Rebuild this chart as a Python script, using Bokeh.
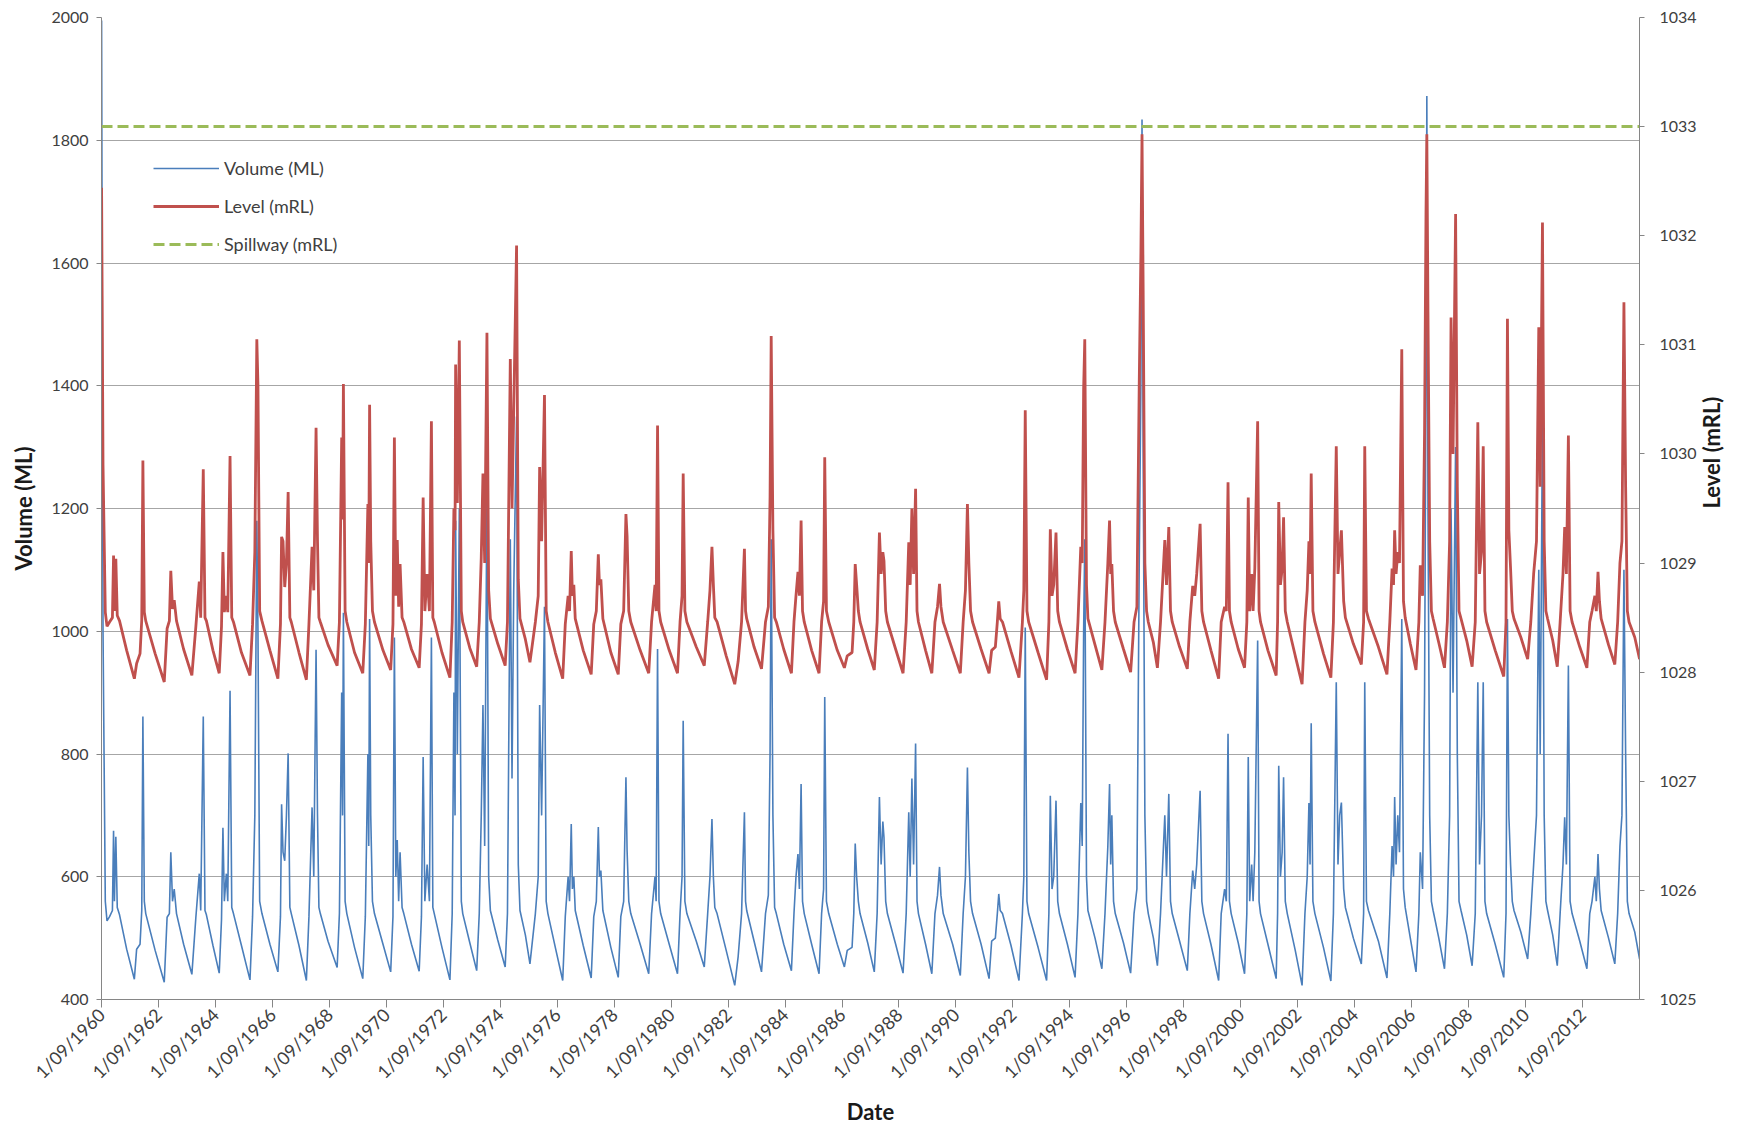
import math
from bokeh.plotting import figure
from bokeh.models import (Range1d, LinearAxis, FixedTicker, CustomJSTickFormatter,
                          Legend, LegendItem, ColumnDataSource)
from bokeh.embed import file_html
from bokeh.resources import INLINE

# ---------------- data ----------------
# date as decimal year, storage volume (ML, left axis), water level (mRL, right axis)
DATE_YR = [
    1960.67, 1960.72, 1960.80, 1960.86, 1960.95, 1961.05, 1961.09, 1961.12, 1961.17, 1961.22, 1961.30, 1961.55, 1961.82, 1961.90, 1962.02,
    1962.08, 1962.12, 1962.17, 1962.22, 1962.55, 1962.87,
    1962.97, 1963.05, 1963.10, 1963.16, 1963.22, 1963.30, 1963.55, 1963.84,
    1963.98, 1964.10, 1964.15, 1964.24, 1964.30, 1964.35, 1964.58, 1964.80,
    1964.88, 1964.93, 1964.98, 1965.05, 1965.10, 1965.18, 1965.24, 1965.30, 1965.58, 1965.88,
    1965.97, 1966.05, 1966.12, 1966.16, 1966.22, 1966.30, 1966.58, 1966.86,
    1966.95, 1966.99, 1967.04, 1967.10, 1967.16, 1967.22, 1967.28, 1967.33, 1967.60, 1967.86,
    1967.95, 1968.06, 1968.12, 1968.20, 1968.25, 1968.30, 1968.35, 1968.62, 1968.94,
    1969.02, 1969.10, 1969.13, 1969.16, 1969.22, 1969.28, 1969.55, 1969.84,
    1969.93, 1970.02, 1970.05, 1970.08, 1970.12, 1970.18, 1970.25, 1970.55, 1970.82,
    1970.90, 1970.95, 1971.00, 1971.05, 1971.10, 1971.15, 1971.22, 1971.28, 1971.55, 1971.82,
    1971.90, 1971.96, 1972.02, 1972.10, 1972.18, 1972.25, 1972.30, 1972.35, 1972.62, 1972.90,
    1972.98, 1973.04, 1973.08, 1973.10, 1973.16, 1973.23, 1973.30, 1973.35, 1973.60, 1973.84,
    1973.93, 1974.00, 1974.06, 1974.12, 1974.20, 1974.26, 1974.32, 1974.58, 1974.84,
    1974.92, 1975.02, 1975.08, 1975.14, 1975.24, 1975.30, 1975.36, 1975.55, 1975.71,
    1975.90, 1976.00, 1976.05, 1976.12, 1976.22, 1976.28, 1976.34, 1976.60, 1976.86,
    1976.95, 1977.05, 1977.10, 1977.16, 1977.20, 1977.25, 1977.30, 1977.58, 1977.86,
    1977.95, 1978.04, 1978.11, 1978.15, 1978.20, 1978.27, 1978.55, 1978.81,
    1978.90, 1979.00, 1979.08, 1979.12, 1979.18, 1979.25, 1979.58, 1979.88,
    1979.98, 1980.10, 1980.14, 1980.19, 1980.24, 1980.30, 1980.60, 1980.89,
    1980.98, 1981.05, 1981.09, 1981.15, 1981.22, 1981.55, 1981.83,
    1981.95, 1982.03, 1982.10, 1982.15, 1982.20, 1982.28, 1982.60, 1982.90,
    1983.02, 1983.14, 1983.24, 1983.28, 1983.32, 1983.58, 1983.84,
    1983.98, 1984.08, 1984.14, 1984.18, 1984.24, 1984.30, 1984.36, 1984.62, 1984.89,
    1984.98, 1985.05, 1985.12, 1985.17, 1985.23, 1985.28, 1985.34, 1985.60, 1985.86,
    1985.95, 1986.02, 1986.06, 1986.12, 1986.20, 1986.50, 1986.75, 1986.85, 1987.02,
    1987.08, 1987.13, 1987.18, 1987.24, 1987.30, 1987.57, 1987.80,
    1987.90, 1987.98, 1988.04, 1988.10, 1988.14, 1988.20, 1988.26, 1988.55, 1988.81,
    1988.92, 1989.01, 1989.06, 1989.12, 1989.18, 1989.25, 1989.30, 1989.35, 1989.60, 1989.82,
    1989.93, 1990.02, 1990.09, 1990.14, 1990.22, 1990.55, 1990.82,
    1990.92, 1991.00, 1991.07, 1991.12, 1991.18, 1991.25, 1991.55, 1991.83, 1991.92, 1992.05,
    1992.12, 1992.17, 1992.22, 1992.30, 1992.60, 1992.88,
    1993.00, 1993.05, 1993.10, 1993.16, 1993.22, 1993.55, 1993.85,
    1993.93, 1993.98, 1994.04, 1994.10, 1994.18, 1994.24, 1994.30, 1994.58, 1994.85,
    1994.95, 1995.05, 1995.10, 1995.15, 1995.19, 1995.25, 1995.30, 1995.55, 1995.79,
    1995.90, 1996.00, 1996.06, 1996.10, 1996.14, 1996.20, 1996.26, 1996.55, 1996.80,
    1996.92, 1997.02, 1997.10, 1997.16, 1997.20, 1997.24, 1997.30, 1997.36, 1997.42, 1997.60, 1997.74,
    1997.85, 1998.00, 1998.06, 1998.14, 1998.20, 1998.26, 1998.52, 1998.79,
    1998.88, 1998.98, 1999.05, 1999.12, 1999.24, 1999.30, 1999.36, 1999.62, 1999.89,
    1999.98, 2000.10, 2000.16, 2000.22, 2000.27, 2000.33, 2000.58, 2000.80,
    2000.88, 2000.93, 2000.98, 2001.05, 2001.10, 2001.16, 2001.26, 2001.31, 2001.36, 2001.62, 2001.91,
    2001.96, 2002.00, 2002.06, 2002.12, 2002.17, 2002.23, 2002.30, 2002.58, 2002.82,
    2002.92, 2003.00, 2003.06, 2003.10, 2003.14, 2003.20, 2003.27, 2003.57, 2003.83,
    2003.92, 2004.02, 2004.08, 2004.14, 2004.20, 2004.28, 2004.34, 2004.62, 2004.90,
    2004.98, 2005.02, 2005.08, 2005.15, 2005.50, 2005.80,
    2005.90, 2005.98, 2006.03, 2006.07, 2006.12, 2006.18, 2006.24, 2006.32, 2006.38, 2006.44, 2006.62, 2006.82,
    2006.92, 2006.97, 2007.05, 2007.12, 2007.17, 2007.20, 2007.24, 2007.30, 2007.36, 2007.42, 2007.62, 2007.82,
    2007.92, 2008.00, 2008.05, 2008.12, 2008.21, 2008.27, 2008.33, 2008.40, 2008.60, 2008.79,
    2008.90, 2008.99, 2009.05, 2009.12, 2009.18, 2009.24, 2009.30, 2009.60, 2009.90,
    2009.98, 2010.03, 2010.08, 2010.14, 2010.20, 2010.26, 2010.50, 2010.74,
    2010.85, 2010.95, 2011.05, 2011.13, 2011.18, 2011.26, 2011.32, 2011.38, 2011.44, 2011.62, 2011.78,
    2011.88, 2011.98, 2012.04, 2012.10, 2012.17, 2012.23, 2012.30, 2012.57, 2012.82,
    2012.92, 2013.00, 2013.10, 2013.15, 2013.21, 2013.26, 2013.32, 2013.58, 2013.80,
    2013.90, 2013.98, 2014.05, 2014.12, 2014.18, 2014.24, 2014.30, 2014.50, 2014.67,
]

VOLUME_ML = [
    1995, 1000, 560, 528, 535, 545, 675, 560, 665, 550, 538, 482, 433, 482, 490,
    545, 861, 560, 540, 480, 428,
    534, 540, 640, 560, 580, 540, 490, 441,
    534, 605, 545, 861, 545, 538, 488, 443,
    530, 680, 560, 605, 560, 903, 550, 540, 488, 432,
    535, 700, 1180, 1000, 560, 540, 490, 445,
    535, 718, 640, 626, 700, 801, 550, 540, 488, 431,
    535, 713, 600, 970, 702, 550, 540, 495, 452,
    540, 900, 700, 1030, 560, 540, 485, 434,
    535, 800, 650, 1020, 700, 560, 540, 490, 445,
    535, 990, 600, 660, 560, 640, 550, 540, 490, 446,
    535, 795, 560, 620, 560, 990, 550, 540, 485, 432,
    540, 900, 700, 1180, 800, 1200, 560, 540, 492, 447,
    540, 700, 880, 650, 1240, 600, 545, 497, 453,
    540, 1150, 760, 1066, 1350, 620, 545, 505, 458,
    540, 600, 880, 700, 1040, 560, 540, 485, 431,
    535, 600, 560, 686, 580, 600, 545, 488, 435,
    535, 560, 681, 600, 610, 545, 485, 436,
    535, 560, 762, 643, 560, 540, 490, 442,
    540, 600, 560, 971, 560, 540, 490, 442,
    540, 600, 854, 560, 540, 495, 453,
    540, 600, 694, 600, 550, 540, 480, 423,
    470, 540, 705, 560, 545, 495, 445,
    540, 570, 800, 1150, 700, 550, 540, 490, 447,
    540, 600, 637, 580, 751, 560, 540, 490, 442,
    540, 580, 893, 560, 540, 490, 453, 480, 485,
    540, 654, 600, 560, 540, 492, 445,
    540, 730, 620, 690, 664, 560, 540, 490, 443,
    540, 705, 600, 760, 620, 817, 560, 540, 490, 442,
    540, 570, 616, 570, 540, 490, 439,
    540, 600, 778, 640, 560, 540, 490, 434, 495, 500,
    540, 572, 545, 540, 488, 431,
    540, 600, 1006, 560, 540, 485, 431,
    540, 732, 580, 600, 724, 560, 540, 490, 436,
    540, 720, 650, 1000, 1150, 600, 545, 500, 450,
    540, 650, 751, 620, 700, 560, 540, 492, 443,
    540, 580, 1100, 1400, 1834, 1300, 700, 560, 540, 500, 455,
    540, 700, 600, 735, 560, 540, 495, 447,
    540, 610, 580, 620, 740, 560, 540, 490, 431,
    540, 580, 560, 833, 560, 540, 492, 442,
    540, 795, 560, 620, 560, 640, 985, 560, 540, 490, 434,
    540, 781, 600, 640, 762, 560, 540, 480, 423,
    540, 600, 720, 620, 850, 560, 540, 485, 430,
    540, 917, 620, 700, 721, 580, 550, 500, 458,
    540, 917, 560, 545, 495, 435,
    540, 650, 600, 730, 620, 700, 640, 1020, 580, 550, 500, 445,
    540, 640, 580, 900, 1400, 1872, 1200, 700, 560, 545, 500, 450,
    540, 700, 1200, 900, 1300, 800, 560, 545, 505, 455,
    540, 917, 620, 700, 917, 560, 540, 490, 436,
    540, 1020, 700, 620, 560, 545, 510, 466,
    540, 620, 700, 1100, 800, 1350, 700, 560, 545, 505, 455,
    540, 620, 697, 620, 944, 560, 540, 495, 450,
    540, 560, 600, 560, 637, 580, 545, 500, 458,
    540, 650, 700, 1100, 800, 560, 540, 510, 466,
]

LEVEL_MRL = [
    1032.44, 1029.90, 1028.55, 1028.42, 1028.46, 1028.50, 1029.07, 1028.56, 1029.04, 1028.52, 1028.47, 1028.20, 1027.94, 1028.08, 1028.17,
    1028.48, 1029.94, 1028.55, 1028.47, 1028.17, 1027.91,
    1028.40, 1028.47, 1028.93, 1028.58, 1028.66, 1028.47, 1028.21, 1027.97,
    1028.42, 1028.83, 1028.50, 1029.86, 1028.50, 1028.47, 1028.20, 1027.99,
    1028.42, 1029.10, 1028.55, 1028.70, 1028.55, 1029.98, 1028.50, 1028.46, 1028.18, 1027.97,
    1028.44, 1029.10, 1031.05, 1030.63, 1028.56, 1028.47, 1028.20, 1027.94,
    1028.44, 1029.24, 1029.20, 1028.78, 1029.00, 1029.65, 1028.50, 1028.46, 1028.18, 1027.93,
    1028.44, 1029.15, 1028.75, 1030.24, 1029.21, 1028.50, 1028.46, 1028.25, 1028.06,
    1028.46, 1030.15, 1029.40, 1030.64, 1028.56, 1028.46, 1028.18, 1027.99,
    1028.44, 1029.54, 1029.00, 1030.45, 1029.20, 1028.56, 1028.46, 1028.20, 1028.02,
    1028.44, 1030.15, 1028.70, 1029.21, 1028.60, 1028.99, 1028.50, 1028.46, 1028.21, 1028.04,
    1028.44, 1029.60, 1028.56, 1028.90, 1028.56, 1030.30, 1028.50, 1028.46, 1028.18, 1027.95,
    1028.46, 1029.50, 1029.30, 1030.82, 1029.55, 1031.04, 1028.56, 1028.46, 1028.22, 1028.05,
    1028.46, 1029.05, 1029.82, 1029.00, 1031.11, 1028.75, 1028.49, 1028.26, 1028.06,
    1028.46, 1030.87, 1029.50, 1030.40, 1031.91, 1028.85, 1028.49, 1028.30, 1028.09,
    1028.46, 1028.70, 1029.88, 1029.20, 1030.54, 1028.56, 1028.46, 1028.18, 1027.94,
    1028.44, 1028.70, 1028.56, 1029.11, 1028.70, 1028.80, 1028.49, 1028.20, 1027.98,
    1028.44, 1028.56, 1029.08, 1028.80, 1028.85, 1028.49, 1028.18, 1027.98,
    1028.44, 1028.56, 1029.45, 1029.25, 1028.56, 1028.46, 1028.20, 1027.99,
    1028.46, 1028.80, 1028.56, 1030.26, 1028.56, 1028.46, 1028.20, 1027.99,
    1028.46, 1028.70, 1029.82, 1028.56, 1028.46, 1028.23, 1028.06,
    1028.46, 1028.75, 1029.15, 1028.80, 1028.50, 1028.46, 1028.15, 1027.89,
    1028.10, 1028.46, 1029.13, 1028.56, 1028.49, 1028.23, 1028.03,
    1028.46, 1028.60, 1029.60, 1031.08, 1029.30, 1028.50, 1028.46, 1028.21, 1027.99,
    1028.46, 1028.70, 1028.92, 1028.70, 1029.39, 1028.56, 1028.46, 1028.20, 1027.99,
    1028.46, 1028.65, 1029.97, 1028.56, 1028.46, 1028.20, 1028.04, 1028.15, 1028.18,
    1028.46, 1028.99, 1028.80, 1028.56, 1028.46, 1028.21, 1028.02,
    1028.46, 1029.28, 1028.90, 1029.10, 1029.02, 1028.56, 1028.46, 1028.21, 1027.99,
    1028.46, 1029.19, 1028.80, 1029.50, 1028.90, 1029.68, 1028.56, 1028.46, 1028.20, 1027.99,
    1028.46, 1028.60, 1028.81, 1028.60, 1028.46, 1028.20, 1027.99,
    1028.46, 1028.75, 1029.54, 1029.00, 1028.56, 1028.46, 1028.21, 1027.99, 1028.20, 1028.23,
    1028.46, 1028.65, 1028.49, 1028.46, 1028.19, 1027.95,
    1028.46, 1028.75, 1030.40, 1028.56, 1028.46, 1028.18, 1027.93,
    1028.46, 1029.31, 1028.70, 1028.80, 1029.28, 1028.56, 1028.46, 1028.21, 1027.99,
    1028.46, 1029.15, 1029.00, 1030.60, 1031.05, 1028.80, 1028.49, 1028.25, 1028.02,
    1028.46, 1029.00, 1029.39, 1028.90, 1028.99, 1028.56, 1028.46, 1028.21, 1028.00,
    1028.46, 1028.60, 1030.60, 1031.83, 1032.93, 1031.50, 1029.00, 1028.56, 1028.46, 1028.27, 1028.04,
    1028.46, 1029.21, 1028.80, 1029.33, 1028.56, 1028.46, 1028.23, 1028.03,
    1028.46, 1028.79, 1028.70, 1028.90, 1029.36, 1028.56, 1028.46, 1028.20, 1027.94,
    1028.46, 1028.60, 1028.56, 1029.74, 1028.56, 1028.46, 1028.21, 1028.04,
    1028.46, 1029.60, 1028.56, 1028.90, 1028.56, 1028.95, 1030.30, 1028.56, 1028.46, 1028.20, 1027.97,
    1028.46, 1029.56, 1028.80, 1028.95, 1029.42, 1028.56, 1028.46, 1028.15, 1027.89,
    1028.46, 1028.75, 1029.20, 1028.90, 1029.82, 1028.56, 1028.46, 1028.17, 1027.95,
    1028.46, 1030.07, 1028.90, 1029.10, 1029.30, 1028.65, 1028.50, 1028.26, 1028.07,
    1028.46, 1030.07, 1028.56, 1028.49, 1028.23, 1027.98,
    1028.46, 1028.95, 1028.80, 1029.30, 1028.90, 1029.10, 1029.00, 1030.96, 1028.65, 1028.50, 1028.26, 1028.02,
    1028.46, 1028.98, 1028.70, 1030.20, 1032.20, 1032.93, 1031.30, 1029.20, 1028.56, 1028.49, 1028.27, 1028.04,
    1028.46, 1029.20, 1031.25, 1030.00, 1032.20, 1029.70, 1028.56, 1028.49, 1028.29, 1028.05,
    1028.46, 1030.29, 1028.90, 1029.10, 1030.07, 1028.56, 1028.46, 1028.20, 1027.96,
    1028.46, 1031.24, 1029.30, 1028.95, 1028.56, 1028.49, 1028.32, 1028.12,
    1028.46, 1028.90, 1029.20, 1031.16, 1029.70, 1032.12, 1029.20, 1028.56, 1028.49, 1028.29, 1028.05,
    1028.46, 1028.90, 1029.33, 1028.90, 1030.17, 1028.56, 1028.46, 1028.23, 1028.04,
    1028.46, 1028.56, 1028.70, 1028.56, 1028.92, 1028.65, 1028.49, 1028.25, 1028.07,
    1028.46, 1029.00, 1029.20, 1031.39, 1029.70, 1028.56, 1028.46, 1028.32, 1028.12,
]

SPILLWAY_MRL = 1033.0
AXIS_START_YR = 1960 + 8 / 12   # 1/09/1960
AXIS_END_YR = 2014 + 8 / 12     # 1/09/2014
TICK_YEARS = list(range(1960, 2013, 2))
VOLUME_TICKS = list(range(400, 2001, 200))
LEVEL_TICKS = list(range(1025, 1035))

# ---------------- figure ----------------
FONT = "Lato"
TICK_COLOR = "#404040"
AXIS_COLOR = "#868686"

p = figure(width=1741, height=1128, output_backend="svg", toolbar_location=None,
           x_range=Range1d(AXIS_START_YR, AXIS_END_YR),
           y_range=Range1d(VOLUME_TICKS[0], VOLUME_TICKS[-1]),
           min_border_left=101, min_border_right=101, min_border_top=17, min_border_bottom=129)
p.extra_y_ranges = {"level": Range1d(LEVEL_TICKS[0], LEVEL_TICKS[-1])}
p.outline_line_color = None
p.background_fill_color = "white"

p.xgrid.visible = False
p.ygrid.grid_line_color = "#a6a6a6"
p.ygrid.grid_line_width = 1

# x axis
xa = p.xaxis[0]
xa.ticker = FixedTicker(ticks=[y + 8 / 12 for y in TICK_YEARS])
xa.formatter = CustomJSTickFormatter(code="return '1/09/' + Math.round(tick - 8/12);")
xa.major_label_orientation = math.pi / 4
xa.axis_label = "Date"

# left axis
ya = p.yaxis[0]
ya.ticker = FixedTicker(ticks=VOLUME_TICKS)
ya.axis_label = "Volume (ML)"

# right axis
ra = LinearAxis(y_range_name="level", ticker=FixedTicker(ticks=LEVEL_TICKS), axis_label="Level (mRL)")
p.add_layout(ra, "right")

for ax in (xa, ya, ra):
    ax.axis_line_color = AXIS_COLOR
    ax.major_tick_line_color = AXIS_COLOR
    ax.minor_tick_line_color = None
    ax.major_tick_in = 0
    ax.major_label_text_font = FONT
    ax.major_label_text_color = TICK_COLOR
    ax.major_label_text_font_size = "16px"
    ax.axis_label_text_font = FONT
    ax.axis_label_text_font_style = "bold"
    ax.axis_label_text_font_size = "22px"
    ax.axis_label_text_color = "#1a1a1a"

xa.major_tick_out = 8
xa.major_label_text_font_size = "18px"
xa.major_label_standoff = 4
xa.axis_label_standoff = 5
ya.major_tick_out = 5
ya.major_label_standoff = 8
ya.axis_label_standoff = 11
ra.major_tick_out = 5
ra.major_label_standoff = 15
ra.axis_label_standoff = 12
ra.axis_label_orientation = math.pi / 2

# ---------------- series ----------------
src = ColumnDataSource(dict(t=DATE_YR, vol=VOLUME_ML, lvl=LEVEL_MRL))
r_vol = p.line("t", "vol", source=src, line_color="#4a7ebb", line_width=1.6)
r_lvl = p.line("t", "lvl", source=src, y_range_name="level", line_color="#c0504d", line_width=2.8)
r_sp = p.line(x=[AXIS_START_YR, AXIS_END_YR], y=[SPILLWAY_MRL, SPILLWAY_MRL], y_range_name="level",
              line_color="#9bbb59", line_width=3, line_dash="11 5")

legend = Legend(items=[LegendItem(label="Volume (ML)", renderers=[r_vol]),
                       LegendItem(label="Level (mRL)", renderers=[r_lvl]),
                       LegendItem(label="Spillway (mRL)", renderers=[r_sp])],
                location=(52, 744), glyph_width=66, glyph_height=20, label_height=20,
                spacing=16, padding=0, margin=0, label_standoff=5,
                border_line_color=None, background_fill_alpha=0,
                label_text_font=FONT, label_text_font_size="18px", label_text_color=TICK_COLOR)
p.add_layout(legend)

open("out.html", "w").write(file_html(p, INLINE))
